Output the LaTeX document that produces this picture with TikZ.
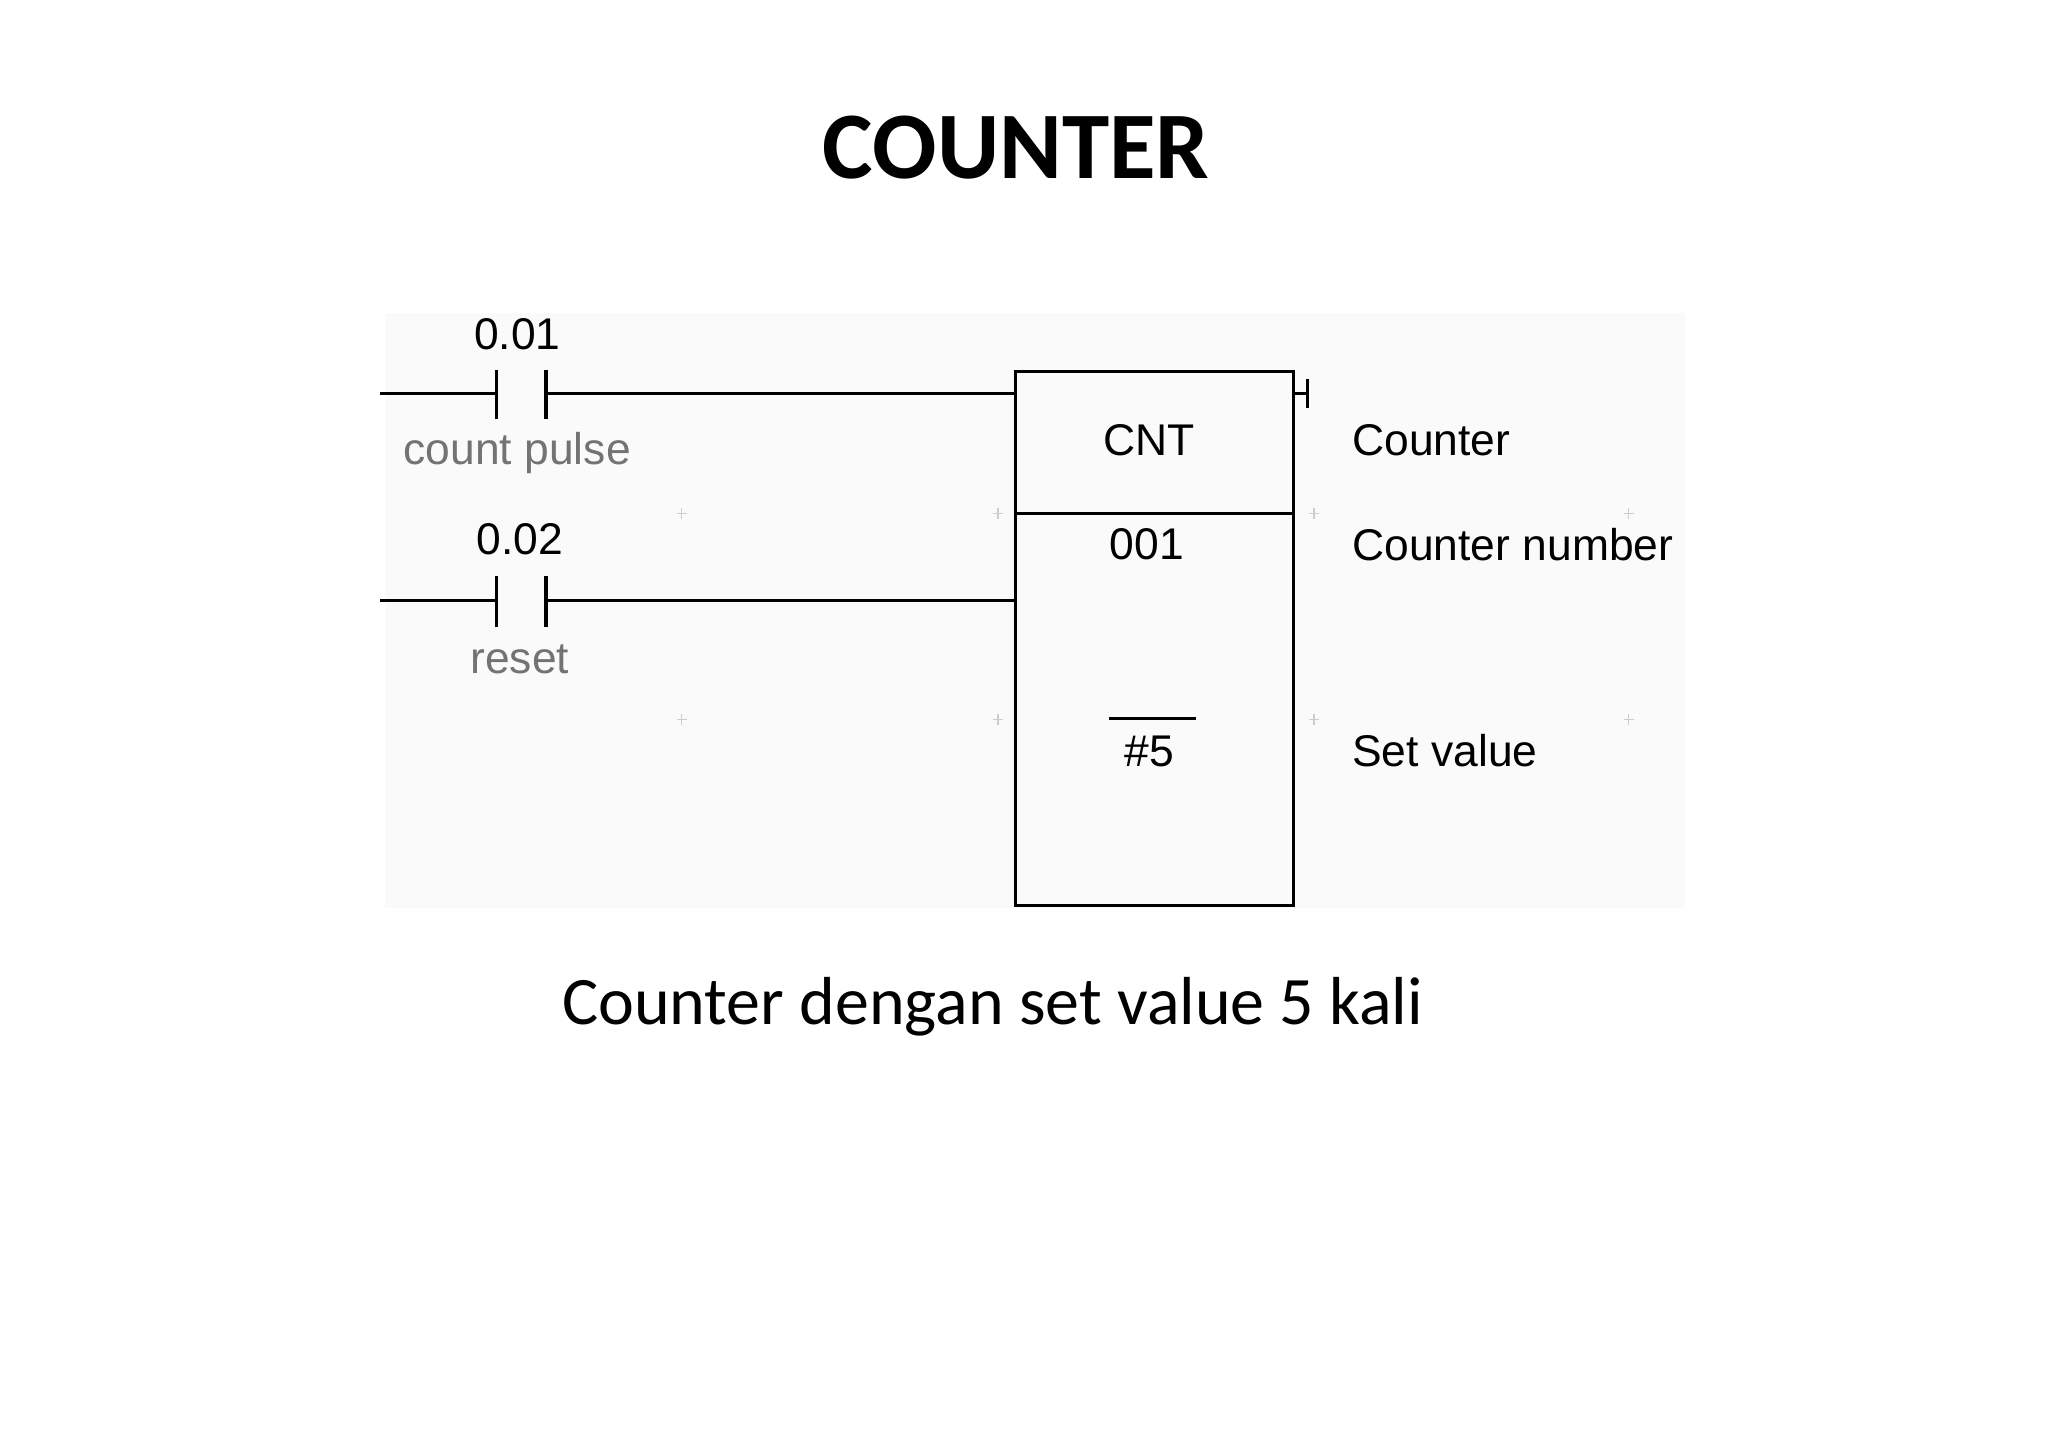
\documentclass[tikz,border=0pt]{standalone}
\usepackage{fontspec}
\setmainfont{Liberation Sans}
\newfontfamily\calfont{Carlito}
\begin{document}
\begin{tikzpicture}[x=0.5pt,y=-0.5pt,
  wire/.style={line width=1.2pt,black},
  lbl/.style={font=\fontsize{17}{17}\selectfont,inner sep=0pt},
  glbl/.style={lbl,text=black!55},
  crs/.style={black!20,line width=0.5pt}]
\useasboundingbox (0,0) rectangle (1568,1108.6);
\fill[black!2] (295,240) rectangle (1290,695);
\node[font=\calfont\bfseries\fontsize{36.5}{36.5}\selectfont] (title) at (778,113) {COUNTER};
\node[font=\calfont\fontsize{26}{26}\selectfont] (cap) at (760,771) {Counter dengan set value 5 kali};
% box
\node[draw,line width=1.2pt,minimum width=106.5pt,minimum height=204.5pt,inner sep=0pt,anchor=north west] (box) at (776,283) {};
\draw[wire] (776,393) -- (989,393);
% rung 1
\coordinate (l1) at (291,301); \coordinate (c1a) at (380,301); \coordinate (c1b) at (418,301);
\draw[wire] (l1) -- (c1a) (c1b) -- (box.west |- c1b);
\draw[wire] (380,283) -- (380,321) (418,283) -- (418,321);
% rung 2
\coordinate (l2) at (291,460); \coordinate (c2a) at (380,460); \coordinate (c2b) at (418,460);
\draw[wire] (l2) -- (c2a) (c2b) -- (box.west |- c2b);
\draw[wire] (380,441) -- (380,480) (418,441) -- (418,480);
% output mark
\draw[wire] (989,301) -- (1001,301) (1001,290) -- (1001,312);
% texts
\node[lbl] (a1) at (396,256) {0.01};
\node[glbl] (a2) at (396,347) {count pulse};
\node[lbl] (b1) at (398,413) {0.02};
\node[glbl] (b2) at (398,505) {reset};
\node[lbl] (cnt) at (880,337) {CNT};
\node[lbl] (num) at (878,417) {001};
\draw[wire] (849,550) -- (916,550);
\node[lbl] (sv) at (880,575) {\#5};
\node[lbl,anchor=west] (t1) at (1035,337) {Counter};
\node[lbl,anchor=west] (t2) at (1035,417) {Counter number};
\node[lbl,anchor=west] (t3) at (1035,575) {Set value};
\foreach \x in {522,764,1006,1247} \foreach \y in {393,551}
  \draw[crs] (\x-4,\y) -- (\x+4,\y) (\x,\y-4) -- (\x,\y+4);
\end{tikzpicture}
\end{document}
